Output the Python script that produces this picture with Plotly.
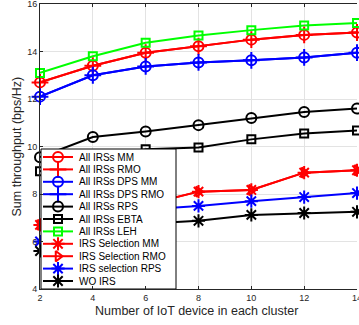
import plotly.graph_objects as go

# ---------------- data ----------------
x_devices = [2, 4, 6, 8, 10, 12, 14]

all_mm = [12.7, 13.4, 13.95, 14.22, 14.5, 14.7, 14.8]
all_rmo = [12.7, 13.4, 13.95, 14.22, 14.5, 14.7, 14.8]
dps_mm = [12.1, 13.0, 13.37, 13.54, 13.63, 13.75, 13.95]
dps_rmo = [12.1, 13.0, 13.37, 13.54, 13.63, 13.75, 13.95]
all_rps = [9.55, 10.4, 10.63, 10.9, 11.2, 11.45, 11.6]
all_ebta = [8.96, 9.5, 9.88, 9.96, 10.3, 10.55, 10.67]
all_leh = [13.1, 13.8, 14.37, 14.67, 14.9, 15.1, 15.2]
sel_mm = [6.7, 7.2, 7.55, 8.1, 8.17, 8.9, 9.0]
sel_rmo = [6.7, 7.2, 7.55, 8.1, 8.17, 8.9, 9.0]
sel_rps = [6.0, 6.8, 7.35, 7.5, 7.7, 7.87, 8.04]
wo_irs = [5.6, 6.3, 6.75, 6.87, 7.12, 7.2, 7.25]

names = ["All IRSs MM", "All IRSs RMO", "All IRSs DPS MM", "All IRSs DPS RMO",
         "All IRSs RPS", "All IRSs EBTA", "All IRSs LEH", "IRS Selection MM",
         "IRS Selection RMO", "IRS selection RPS", "WO IRS"]
series = [all_mm, all_rmo, dps_mm, dps_rmo, all_rps, all_ebta, all_leh,
          sel_mm, sel_rmo, sel_rps, wo_irs]

x_ticks = [2, 4, 6, 8, 10, 12, 14]
y_ticks = [4, 6, 8, 10, 12, 14, 16]
x_title = "Number of IoT device in each cluster"
y_title = "Sum throughput (bps/Hz)"

# ---------------- styles ----------------
RED, BLUE, GREEN, BLACK = "#ff0000", "#0000ff", "#00ff00", "#000000"
colors = [RED, RED, BLUE, BLUE, BLACK, BLACK, GREEN, RED, RED, BLUE, BLACK]
symbols = ["circle-open", "cross-thin-open", "circle-open", "cross-thin-open",
           "circle-open", "square-open", "square-open", "asterisk-open",
           "triangle-right-open", "asterisk-open", "asterisk-open"]
sizes = [10, 12, 10, 12, 10, 8, 8, 11, 9, 11, 11]

W, H = 359, 325
ML, MR, MT, MB = 40, 2, 4, 36
PW, PH = W - ML - MR, H - MT - MB
FONT = "Liberation Sans, Arial, sans-serif"
TXT = "#262626"


def px_to_paper(px, py):
    return (px - ML) / PW, (H - MB - py) / PH


fig = go.Figure()

for nm, ys, c, s, sz in zip(names, series, colors, symbols, sizes):
    fig.add_trace(go.Scatter(
        x=x_devices, y=ys, mode="lines+markers", name=nm,
        line=dict(color=c, width=2),
        marker=dict(symbol=s, size=sz, color=c, line=dict(color=c, width=2)),
        cliponaxis=False, showlegend=False))

# ---------------- custom legend (pixel coordinates on overlay axes) ----------------
box_l, box_r, box_t, box_b = 41, 176, 149, 289
row0, row_step = 157, 12.4
fig.add_trace(go.Scatter(
    x=[box_l, box_r, box_r, box_l, box_l], y=[box_t, box_t, box_b, box_b, box_t],
    mode="lines", fill="toself", fillcolor="white",
    line=dict(color=BLACK, width=1), xaxis="x2", yaxis="y2",
    showlegend=False, hoverinfo="skip"))
for i, (nm, c, s, sz) in enumerate(zip(names, colors, symbols, sizes)):
    yy = row0 + i * row_step
    fig.add_trace(go.Scatter(
        x=[43, 73], y=[yy, yy], mode="lines", line=dict(color=c, width=2),
        xaxis="x2", yaxis="y2", showlegend=False, hoverinfo="skip"))
    fig.add_trace(go.Scatter(
        x=[58], y=[yy], mode="markers",
        marker=dict(symbol=s, size=sz, color=c, line=dict(color=c, width=2)),
        xaxis="x2", yaxis="y2", showlegend=False, hoverinfo="skip", cliponaxis=False))
    fig.add_annotation(x=77, y=yy, xref="x2", yref="y2", text=nm, showarrow=False,
                       xanchor="left", yanchor="middle",
                       font=dict(family=FONT, size=10, color=BLACK))

# axis titles as positioned text (paper units relative to plot area)
tx, ty = px_to_paper(196, 311)
fig.add_annotation(x=tx, y=ty, xref="paper", yref="paper",
                   text=x_title, showarrow=False, xanchor="center", yanchor="middle",
                   font=dict(family=FONT, size=12.5, color=TXT))
tx, ty = px_to_paper(16, 146.5)
fig.add_annotation(x=tx, y=ty, xref="paper", yref="paper",
                   text=y_title, showarrow=False, textangle=-90,
                   xanchor="center", yanchor="middle",
                   font=dict(family=FONT, size=12.5, color=TXT))

fig.update_layout(
    width=W, height=H,
    margin=dict(l=ML, r=MR, t=MT, b=MB, pad=0, autoexpand=False),
    paper_bgcolor="white", plot_bgcolor="white",
    font=dict(family=FONT, color=TXT),
    xaxis=dict(range=[2, 14], tickvals=x_ticks, ticktext=[str(v) for v in x_ticks],
               showgrid=True, gridcolor="#e3e3e3", gridwidth=1, zeroline=False,
               showline=True, linecolor=TXT, linewidth=1, mirror="allticks",
               ticks="inside", ticklen=3, tickcolor=TXT, automargin=False,
               ticklabeloverflow="allow",
               tickfont=dict(size=9, color=TXT)),
    yaxis=dict(range=[4, 16], tickvals=y_ticks, ticktext=[str(v) for v in y_ticks],
               showgrid=True, gridcolor="#e3e3e3", gridwidth=1, zeroline=False,
               showline=True, linecolor=TXT, linewidth=1, mirror=False,
               ticks="inside", ticklen=3, tickcolor=TXT, automargin=False,
               ticklabeloverflow="allow",
               tickfont=dict(size=9, color=TXT)),
    xaxis2=dict(overlaying="x", range=[ML, W - MR], visible=False, fixedrange=True),
    yaxis2=dict(overlaying="y", range=[H - MB, MT], visible=False, fixedrange=True),
)

fig.write_html("out.html", config={"displayModeBar": False},
               post_script="document.body.style.margin='0';"
                           "document.body.style.overflow='hidden';")
